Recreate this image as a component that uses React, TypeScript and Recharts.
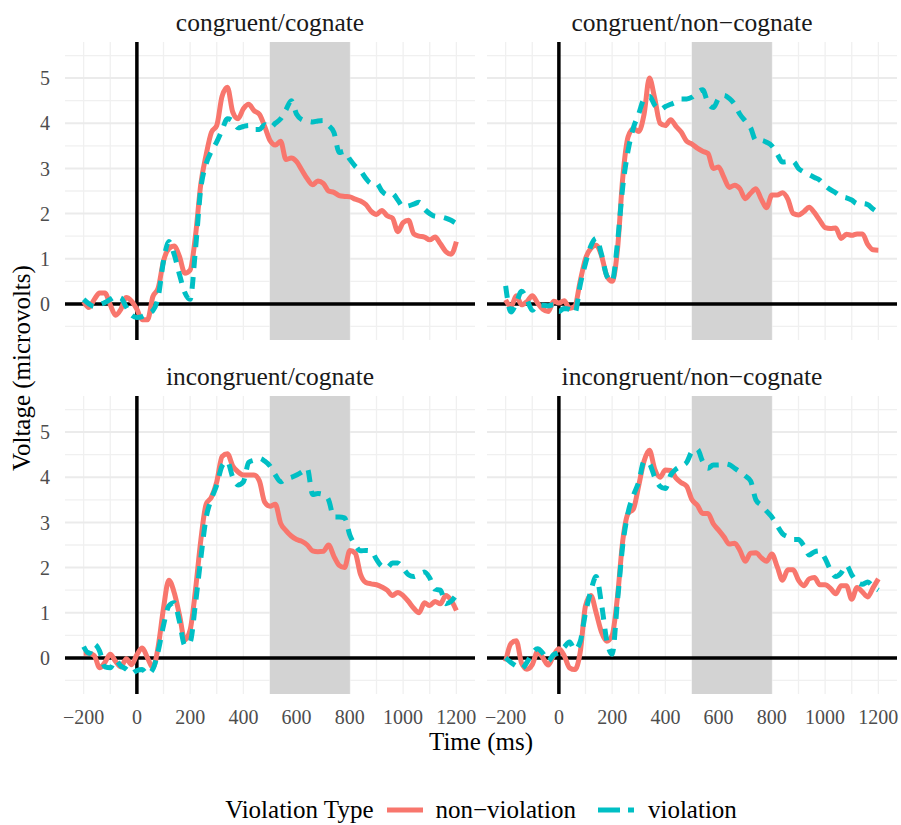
import {
    LineChart,
    Line,
    XAxis,
    YAxis,
    CartesianGrid,
    ReferenceArea,
    ReferenceLine,
} from 'recharts'

// time points (ms), one value every 20 ms
const TIME = [
    -200, -180, -160, -140, -120, -100, -80, -60, -40, -20,
    0, 20, 40, 60, 80, 100, 120, 140, 160, 180,
    200, 220, 240, 260, 280, 300, 320, 340, 360, 380,
    400, 420, 440, 460, 480, 500, 520, 540, 560, 580,
    600, 620, 640, 660, 680, 700, 720, 740, 760, 780,
    800, 820, 840, 860, 880, 900, 920, 940, 960, 980,
    1000, 1020, 1040, 1060, 1080, 1100, 1120, 1140, 1160, 1180,
    1200,
]

const X_TICKS = [-200, 0, 200, 400, 600, 800, 1000, 1200]
const X_GRID = [-200, -100, 0, 100, 200, 300, 400, 500, 600, 700, 800, 900, 1000, 1100, 1200]
const Y_TICKS = [0, 1, 2, 3, 4, 5]
const Y_MINOR = [-0.5, 0.5, 1.5, 2.5, 3.5, 4.5, 5.5]
const WINDOW_START = 500
const WINDOW_END = 800

// congruent / cognate
const congCogNon = [
    0.05, -0.08, 0.1, 0.24, 0.24, -0.02, -0.25, -0.12, 0.14, 0.06,
    -0.12, -0.35, -0.35, 0.16, 0.35, 0.95, 1.22, 1.28, 1.05, 0.68,
    0.75, 1.5, 2.65, 3.3, 3.8, 3.95, 4.6, 4.8, 4.25, 4.1,
    4.32, 4.42, 4.28, 4.2, 3.93, 3.62, 3.52, 3.6, 3.2, 3.23,
    3.15, 2.96, 2.77, 2.64, 2.72, 2.67, 2.5, 2.47, 2.4, 2.38,
    2.37, 2.32, 2.28, 2.2, 2.05, 1.98, 2.07, 1.95, 1.9, 1.6,
    1.8, 1.85, 1.55, 1.5, 1.48, 1.42, 1.48, 1.33, 1.16, 1.1,
    1.38,
]
const congCogViol = [
    0.1, 0.0, -0.06, -0.02, 0.03, 0.1, 0.16, 0.13, -0.07, -0.25,
    -0.3, -0.28, -0.22, -0.15, 0.15, 0.95, 1.38, 1.1, 0.65, 0.25,
    0.1, 1.2, 2.55, 3.1, 3.38, 3.59, 3.85, 4.1, 4.05, 3.9,
    3.93, 3.95, 3.86, 3.86, 3.97, 3.9, 4.0, 4.1, 4.3, 4.5,
    4.2, 4.08, 4.05, 4.03, 4.05, 4.06, 3.95, 3.8, 3.35, 3.38,
    3.2, 3.05, 2.95, 2.78, 2.67, 2.67, 2.5, 2.42, 2.44, 2.3,
    2.15, 2.17, 2.21, 2.25, 2.1, 2.0, 1.94, 1.93, 1.9, 1.85,
    1.78,
]

// congruent / non-cognate
const congNonCogNon = [
    0.09, -0.06, 0.18, -0.02, 0.05, 0.18, 0.02, -0.12, -0.17, 0.06,
    0.02, 0.07, -0.1, -0.05, 0.5, 1.0, 1.23, 1.3, 1.07, 0.62,
    0.5, 1.2, 2.8, 3.7, 3.88, 3.82, 4.2, 5.0, 4.55, 4.0,
    3.95, 4.08, 3.93, 3.8, 3.6, 3.54, 3.45, 3.38, 3.33, 3.0,
    3.03, 2.8, 2.58, 2.63, 2.55, 2.33, 2.45, 2.55, 2.32, 2.13,
    2.41, 2.41, 2.46, 2.32, 2.0, 1.97, 2.04, 2.14, 2.02, 1.85,
    1.69, 1.67, 1.68, 1.45, 1.54, 1.52, 1.55, 1.55, 1.32, 1.2,
    1.19,
]
const congNonCogViol = [
    0.4, -0.18, 0.02, 0.28, 0.1, -0.14, -0.03, -0.03, -0.04, -0.02,
    -0.17, -0.1, -0.12, -0.2, 0.42, 0.9, 1.28, 1.45, 1.1, 0.62,
    0.5, 1.35, 2.6, 3.4, 3.9, 4.21, 4.54, 4.6, 4.4, 4.3,
    4.37, 4.42, 4.47, 4.54, 4.54, 4.58, 4.68, 4.74, 4.45, 4.35,
    4.55, 4.62, 4.55, 4.42, 4.2, 4.05, 3.9, 3.62, 3.62, 3.58,
    3.5, 3.32, 3.14, 3.15, 3.15, 3.0, 2.92, 2.86, 2.8, 2.74,
    2.62, 2.53, 2.46, 2.38, 2.35, 2.3, 2.22, 2.22, 2.2, 2.1,
    2.02,
]

// incongruent / cognate
const incongCogNon = [
    0.1, 0.1, 0.05, -0.22, -0.1, 0.08, -0.08, -0.2, -0.02, -0.15,
    0.07, 0.22, 0.0, -0.22, 0.25, 1.1, 1.72, 1.45, 0.95, 0.4,
    0.62, 1.5, 2.6, 3.4, 3.56, 3.9, 4.46, 4.52, 4.25, 4.12,
    4.05, 4.05, 4.05, 3.92, 3.45, 3.36, 3.4, 2.98, 2.82, 2.7,
    2.62, 2.58, 2.5, 2.37, 2.35, 2.36, 2.5, 2.25, 2.05, 2.0,
    2.38, 2.32, 1.85, 1.67, 1.64, 1.62, 1.57, 1.5, 1.38, 1.45,
    1.38, 1.25, 1.1, 1.0, 1.22, 1.16, 1.25, 1.2, 1.38, 1.28,
    1.05,
]
const incongCogViol = [
    0.25, 0.1, 0.3, 0.15, -0.2, -0.22, -0.05, -0.18, -0.25, -0.35,
    -0.28, -0.26, -0.36, -0.25, 0.15, 0.72, 1.15, 1.22, 0.8, 0.28,
    0.35, 1.2, 2.2, 3.1, 3.52, 3.83, 4.25, 4.35, 4.0, 3.83,
    3.9, 4.33, 4.38, 4.42, 4.36, 4.25, 4.05, 3.9, 3.97, 4.0,
    4.05, 4.12, 4.2, 3.62, 3.64, 3.62, 3.5, 3.12, 3.12, 3.1,
    2.72, 2.5, 2.37, 2.38, 2.37, 2.18, 2.03, 2.0, 2.1, 2.1,
    1.98, 1.84, 1.8, 1.85, 1.9, 1.77, 1.52, 1.5, 1.2, 1.25,
    1.4,
]

// incongruent / non-cognate
const incongNonCogNon = [
    -0.08, 0.32, 0.38, -0.12, -0.25, -0.15, 0.14, 0.0, -0.16, 0.05,
    0.2, 0.05, -0.22, -0.26, 0.12, 1.15, 1.38, 1.0, 0.57, 0.37,
    0.5, 1.35, 2.6, 3.2, 3.3, 3.82, 4.36, 4.6, 4.18, 4.0,
    4.16, 4.15, 3.98, 3.88, 3.8, 3.5, 3.38, 3.2, 3.2, 2.97,
    2.83, 2.68, 2.52, 2.54, 2.38, 2.14, 2.32, 2.33, 2.22, 2.14,
    2.3, 2.02, 1.72, 1.95, 1.95, 1.72, 1.6, 1.75, 1.78, 1.62,
    1.62, 1.54, 1.42, 1.6, 1.6, 1.3, 1.56, 1.46, 1.35, 1.55,
    1.75,
]
const incongNonCogViol = [
    0.0, -0.1, -0.18, -0.24, -0.1, 0.1, 0.2, 0.1, -0.07, 0.07,
    0.12, 0.24, 0.35, 0.18, 0.36, 1.0, 1.48, 1.8, 1.2, 0.38,
    0.08, 1.25, 2.5, 3.22, 3.6, 3.9, 4.35, 4.3, 4.0, 3.8,
    3.75, 4.05, 4.18, 4.25, 4.33, 4.57, 4.62, 4.35, 4.2, 4.27,
    4.27, 4.3, 4.28, 4.2, 4.12, 4.03, 3.92, 3.5, 3.38, 3.25,
    3.12, 2.93, 2.75, 2.68, 2.62, 2.62, 2.48, 2.28, 2.35, 2.37,
    2.2, 1.95, 1.8, 1.88, 2.05, 1.84, 1.68, 1.63, 1.68, 1.58,
    1.5,
]

const FONT = '"Liberation Serif", "Times New Roman", serif'
const RED = '#F8766D'
const TEAL = '#00BFC4'
const DASH = '12 9'
const LINE_W = 5

const PLOT_W = 410
const PLOT_H = 298

const fmtTick = (v: number) => (v < 0 ? `\u2212${Math.abs(v)}` : `${v}`)

type PanelProps = {
    title: string
    non: number[]
    viol: number[]
    left: number
    top: number
    showX: boolean
    showY: boolean
}

function Panel({ title, non, viol, left, top, showX, showY }: PanelProps) {
    const rows = TIME.map((t, i) => ({ t, non: non[i], viol: viol[i] }))
    const yAxisW = showY ? 65 : 0
    // extra room so the edge tick labels are not clipped
    const padL = showY ? 0 : 24
    const padR = 6
    const xAxisH = showX ? 45 : 0
    return (
        <>
            <div
                style={{
                    position: 'absolute',
                    left,
                    top: top - 33,
                    width: PLOT_W,
                    textAlign: 'center',
                    fontSize: 25.5,
                    lineHeight: '28px',
                    color: '#1a1a1a',
                }}
            >
                {title}
            </div>
            <div style={{ position: 'absolute', left: left - yAxisW - padL, top }}>
                <LineChart
                    width={PLOT_W + yAxisW + padL + padR}
                    height={PLOT_H + xAxisH}
                    data={rows}
                    margin={{ top: 0, right: padR, bottom: 0, left: padL }}
                >
                    <CartesianGrid
                        horizontalValues={Y_MINOR}
                        verticalValues={X_GRID}
                        stroke="#f0f0f0"
                        strokeWidth={1.3}
                    />
                    <CartesianGrid
                        horizontalValues={Y_TICKS}
                        vertical={false}
                        stroke="#ebebeb"
                        strokeWidth={2}
                    />
                    <XAxis
                        dataKey="t"
                        type="number"
                        domain={[-270, 1270]}
                        ticks={X_TICKS}
                        interval={0}
                        hide={!showX}
                        height={45}
                        axisLine={false}
                        tickLine={false}
                        tickMargin={10}
                        tickFormatter={fmtTick}
                        tick={{ fill: '#4d4d4d', fontSize: 20 }}
                    />
                    <YAxis
                        type="number"
                        domain={[-0.8, 5.8]}
                        ticks={Y_TICKS}
                        interval={0}
                        hide={!showY}
                        width={65}
                        axisLine={false}
                        tickLine={false}
                        tickMargin={9}
                        tick={{ fill: '#4d4d4d', fontSize: 20 }}
                    />
                    <ReferenceArea
                        x1={WINDOW_START}
                        x2={WINDOW_END}
                        fill="#d3d3d3"
                        fillOpacity={1}
                        stroke="none"
                    />
                    <ReferenceLine x={0} stroke="#000" strokeWidth={3.5} />
                    <ReferenceLine y={0} stroke="#000" strokeWidth={3.5} />
                    <Line
                        dataKey="non"
                        type="monotone"
                        stroke={RED}
                        strokeWidth={LINE_W}
                        strokeLinejoin="round"
                        dot={false}
                        activeDot={false}
                        isAnimationActive={false}
                    />
                    <Line
                        dataKey="viol"
                        type="monotone"
                        stroke={TEAL}
                        strokeWidth={LINE_W}
                        strokeDasharray={DASH}
                        dot={false}
                        activeDot={false}
                        isAnimationActive={false}
                    />
                </LineChart>
            </div>
        </>
    )
}

function LegendKey({ color, dashed }: { color: string; dashed?: boolean }) {
    return (
        <svg width={36} height={10} style={{ display: 'block' }}>
            <line
                x1={0}
                x2={36}
                y1={5}
                y2={5}
                stroke={color}
                strokeWidth={LINE_W}
                strokeDasharray={dashed ? '22 8' : undefined}
            />
        </svg>
    )
}

function App() {
    return (
        <div
            style={{
                position: 'absolute',
                left: 0,
                top: 0,
                width: 901,
                height: 825,
                background: '#fff',
                fontFamily: FONT,
                overflow: 'hidden',
            }}
        >
            <Panel title="congruent/cognate" non={congCogNon} viol={congCogViol} left={65} top={42} showX={false} showY />
            <Panel title="congruent/non−cognate" non={congNonCogNon} viol={congNonCogViol} left={487} top={42} showX={false} showY={false} />
            <Panel title="incongruent/cognate" non={incongCogNon} viol={incongCogViol} left={65} top={396} showX showY />
            <Panel title="incongruent/non−cognate" non={incongNonCogNon} viol={incongNonCogViol} left={487} top={396} showX showY={false} />

            <div
                style={{
                    position: 'absolute',
                    left: 22,
                    top: 368,
                    transform: 'translate(-50%, -50%) rotate(-90deg)',
                    whiteSpace: 'nowrap',
                    fontSize: 25,
                    color: '#000',
                }}
            >
                Voltage (microvolts)
            </div>
            <div
                style={{
                    position: 'absolute',
                    left: 65,
                    width: 832,
                    top: 727,
                    textAlign: 'center',
                    fontSize: 25,
                    lineHeight: '30px',
                    color: '#000',
                }}
            >
                Time (ms)
            </div>

            <div
                style={{
                    position: 'absolute',
                    left: 65,
                    width: 832,
                    top: 795,
                    height: 30,
                    display: 'flex',
                    alignItems: 'center',
                    justifyContent: 'center',
                    fontSize: 25,
                    color: '#000',
                }}
            >
                <span style={{ marginRight: 14 }}>Violation Type</span>
                <LegendKey color={RED} />
                <span style={{ marginLeft: 12, marginRight: 22 }}>non−violation</span>
                <LegendKey color={TEAL} dashed />
                <span style={{ marginLeft: 14 }}>violation</span>
            </div>
        </div>
    )
}

export default App
